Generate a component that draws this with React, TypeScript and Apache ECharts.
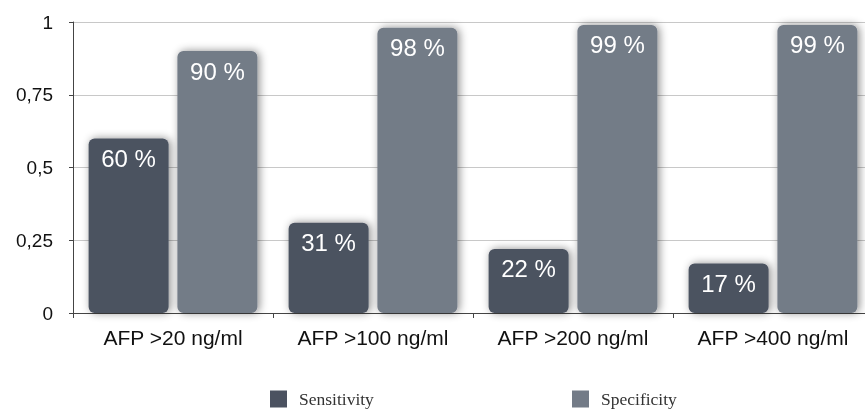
import React, { useEffect, useRef } from "react";
import * as echarts from "echarts";

const categories = ["AFP >20 ng/ml", "AFP >100 ng/ml", "AFP >200 ng/ml", "AFP >400 ng/ml"];
const sensitivity = [0.6, 0.31, 0.22, 0.17];
const specificity = [0.9, 0.98, 0.99, 0.99];
const seriesNames = ["Sensitivity", "Specificity"];

const SENS_COLOR = "#4b5260";
const SPEC_COLOR = "#737b87";

export default function App() {
  const ref = useRef<HTMLDivElement>(null);
  useEffect(() => {
    if (!ref.current) return;
    const chart = echarts.init(ref.current, null, { renderer: "svg" });
    const barLabel = {
      show: true,
      position: "insideTop",
      distance: 8,
      color: "#ffffff",
      fontSize: 24,
      fontFamily: "Liberation Sans",
      formatter: (p: any) => Math.round(p.value * 100) + " %",
    };
    const legendBase = {
      icon: "rect",
      itemWidth: 17,
      itemHeight: 17,
      itemGap: 12,
      itemStyle: { borderWidth: 0 },
      top: 385,
      textStyle: { fontFamily: "Liberation Serif", fontSize: 17.5, color: "#333", padding: [0, 0, 0, 7] },
    };
    chart.setOption({
      animation: false,
      legend: [
        { ...legendBase, left: 265, data: [seriesNames[0]] },
        { ...legendBase, left: 567, data: [seriesNames[1]] },
      ],
      grid: { left: 73, right: 7, top: 22, bottom: 97, containLabel: false },
      xAxis: {
        type: "category",
        data: categories,
        axisLine: { lineStyle: { color: "#444", width: 1 } },
        axisTick: { show: true, length: 5, lineStyle: { color: "#444" } },
        axisLabel: { color: "#111", fontSize: 21, fontFamily: "Liberation Sans", margin: 14 },
      },
      yAxis: {
        type: "value",
        min: 0,
        max: 1,
        interval: 0.25,
        axisLine: { show: true, lineStyle: { color: "#444", width: 1 } },
        axisTick: { show: true, length: 4, lineStyle: { color: "#444" } },
        splitLine: { lineStyle: { color: "#c8c8c8" } },
        axisLabel: {
          color: "#111",
          fontSize: 19,
          fontFamily: "Liberation Sans",
          margin: 20,
          formatter: (v: number) => String(v).replace(".", ","),
        },
      },
      series: [
        {
          name: seriesNames[0],
          type: "bar",
          data: sensitivity,
          barWidth: 80,
          barGap: "11%",
          itemStyle: {
            color: SENS_COLOR,
            borderRadius: 6,
            shadowBlur: 8,
            shadowColor: "rgba(0,0,0,0.45)",
            shadowOffsetX: 2,
          },
          label: barLabel,
        },
        {
          name: seriesNames[1],
          type: "bar",
          data: specificity,
          barWidth: 80,
          itemStyle: {
            color: SPEC_COLOR,
            borderRadius: 6,
            shadowBlur: 8,
            shadowColor: "rgba(0,0,0,0.45)",
            shadowOffsetX: 2,
          },
          label: barLabel,
        },
      ],
    });
    return () => chart.dispose();
  }, []);
  return <div ref={ref} style={{ position: "fixed", left: 0, top: 0, width: 880, height: 410 }} />;
}
